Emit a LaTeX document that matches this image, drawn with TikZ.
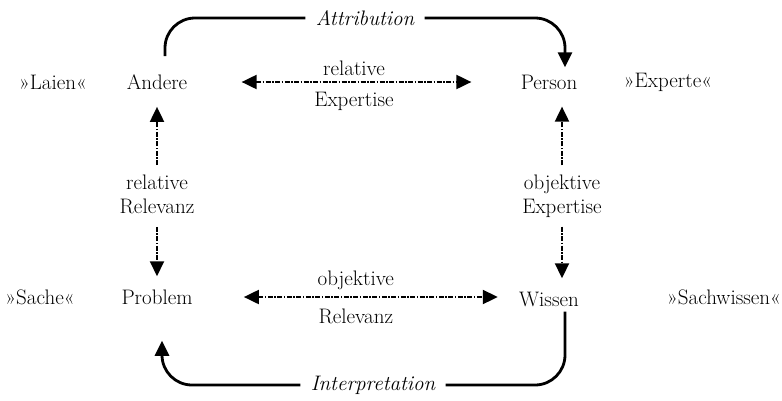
\documentclass[tikz,border=0pt]{standalone}
\usepackage{amsmath}
\usepackage{tikz}
\usetikzlibrary{calc}
\usetikzlibrary{arrows.meta}
\tikzset{every picture/.style={line width=0.75pt}}
\tikzset{
  lbl/.style={inner sep=1pt, font=\fontsize{21}{24}\selectfont, align=center},
  ital/.style={lbl, font=\fontsize{21}{24}\selectfont\itshape, inner sep=10pt},
  dotline/.style={line width=2pt, dash pattern=on 5pt off 1.5pt on 1.5pt off 1.5pt},
  arcline/.style={line width=2.8pt, rounded corners=30pt},
  tip/.style={-{Triangle[width=14pt,length=15pt]}},
  tips/.style={{Triangle[width=14pt,length=15pt]}-{Triangle[width=14pt,length=15pt]}}
}

\begin{document}
\begin{tikzpicture}[x=1pt,y=1pt,yscale=-1,xscale=1]
\useasboundingbox (0,0) rectangle (782,400);

% Text Node
\draw (53,82) node [lbl] (laien) {»Laien«};
% Text Node
\draw (157,82) node [lbl] (andere) {Andere};
% Text Node
\draw (549,82) node [lbl] (person) {Person};
% Text Node
\draw (668,82) node [lbl] (experte) {»Experte«};
% Text Node
\draw (40,297) node [lbl] (sache) {»Sache«};
% Text Node
\draw (157,297) node [lbl] (problem) {Problem};
% Text Node
\draw (549,299) node [lbl] (wissen) {Wissen};
% Text Node
\draw (724,297) node [lbl] (sachwissen) {»Sachwissen«};
% Text Node
\draw (365,18) node [ital] (attr) {Attribution};
% Text Node
\draw (373,385) node [ital] (interp) {Interpretation};
% Text Node
\draw (157,194) node [lbl] (relrel) {relative\\Relevanz};
% Text Node
\draw (562,196) node [lbl] (objexp) {objektive\\Expertise};

%Straight Lines
\draw [dotline, tips, shorten <=53pt, shorten >=48pt] (andere.east) -- (andere.east -| person.west)
  node [lbl, midway, above=4pt] (relexpa) {relative}
  node [lbl, midway, below=8pt] (relexpb) {Expertise};
%Straight Lines
\draw [dotline, tips, shorten <=50pt, shorten >=20pt] (problem.east) -- (problem.east -| wissen.west)
  node [lbl, midway, above=5pt] (objrela) {objektive}
  node [lbl, midway, below=10pt] (objrelb) {Relevanz};
%Straight Lines
\draw [dotline, tip, shorten <=8pt, shorten >=16pt] (relrel.north) -- (andere.south);
\draw [dotline, tip, shorten <=12pt, shorten >=12pt] (relrel.south) -- (problem.north);
%Straight Lines
\draw [dotline, tip, shorten <=8pt, shorten >=16pt] (objexp.north) -- (objexp.north |- person.south);
\draw [dotline, tip, shorten <=8pt, shorten >=12pt] (objexp.south) -- (objexp.south |- wissen.north);

%Curve Lines
\draw [arcline] ([xshift=8pt,yshift=-17pt]andere.north) |- (attr.west);
\draw [arcline, tip] (attr.east) -| ([xshift=16pt,yshift=-6pt]person.north);
\draw [arcline] ([xshift=16pt,yshift=4pt]wissen.south) |- (interp.east);
\draw [arcline, tip] (interp.west) -| ([xshift=5pt,yshift=35pt]problem.south);

\end{tikzpicture}
\end{document}
